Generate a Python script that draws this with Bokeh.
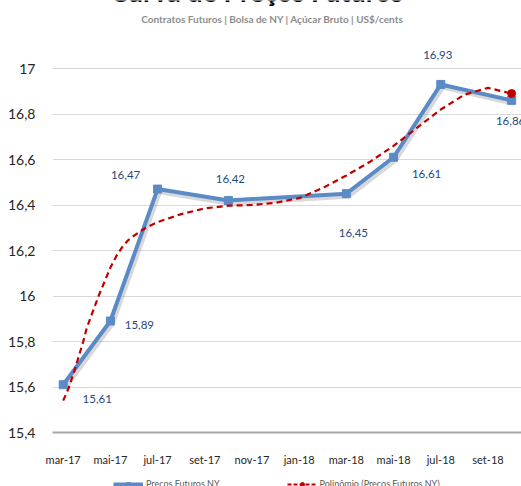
from bokeh.plotting import figure
from bokeh.layouts import column
from bokeh.models import ColumnDataSource, FixedTicker, Label, Legend, LegendItem, Range1d
from bokeh.core.properties import value
from bokeh.transform import dodge
from bokeh.embed import file_html
from bokeh.resources import INLINE

# ---------------- data ----------------
months = ["mar-17", "abr-17", "mai-17", "jun-17", "jul-17", "ago-17", "set-17", "out-17",
          "nov-17", "dez-17", "jan-18", "fev-18", "mar-18", "abr-18", "mai-18", "jun-18",
          "jul-18", "ago-18", "set-18", "out-18"]
price_months = ["mar-17", "mai-17", "jul-17", "out-17", "mar-18", "mai-18", "jul-18", "out-18"]
prices = [15.61, 15.89, 16.47, 16.42, 16.45, 16.61, 16.93, 16.86]
price_labels = ["15,61", "15,89", "16,47", "16,42", "16,45", "16,61", "16,93", "16,86"]
# polynomial trend line (position in months since mar-17, value)
trend_pos = [0, 0.25, 0.5, 0.85, 1, 1.5, 2, 2.25, 2.5, 2.75, 3, 3.5, 4, 5, 6, 7, 8, 9, 10,
             11, 12, 13, 14, 15, 16, 17, 18, 19]
trend_values = [15.54, 15.60, 15.68, 15.80, 15.86, 16.00, 16.125, 16.175, 16.215, 16.245,
                16.265, 16.30, 16.325, 16.36, 16.385, 16.397, 16.40, 16.41, 16.43, 16.475,
                16.53, 16.59, 16.66, 16.74, 16.82, 16.885, 16.915, 16.89]
x_tick_labels = ["mar-17", "mai-17", "jul-17", "set-17", "nov-17", "jan-18", "mar-18",
                 "mai-18", "jul-18", "set-18"]
y_ticks = [15.4, 15.6, 15.8, 16.0, 16.2, 16.4, 16.6, 16.8, 17.0]
y_tick_labels = ["15,4", "15,6", "15,8", "16", "16,2", "16,4", "16,6", "16,8", "17"]
title = "Curva de Preços Futuros"
subtitle = "Contratos Futuros | Bolsa de NY | Açúcar Bruto | US$/cents"
series_name = "Preços Futuros NY"
trend_name = "Polinômio (Preços Futuros NY)"

# ---------------- styling / label placement (pixels) ----------------
label_dx = [34, 29, -32, 2, 7, 33, -3, -1]
label_dy = [14, 4, -14, -21, 39, 17, -29, 21]
BLUE = "#5B8BC7"
RED = "#C00000"
FONT = "Lato"

px = [months.index(m) for m in price_months]

src = ColumnDataSource(dict(x=px, y=prices, label=price_labels, dx=label_dx, dy=label_dy))
tsrc = ColumnDataSource(dict(x=trend_pos, y=trend_values))
tend = ColumnDataSource(dict(x=trend_pos[-1:], y=trend_values[-1:]))

p = figure(width=521, height=470, output_backend="svg", toolbar_location=None,
           x_range=Range1d(-0.453, 19.42), y_range=Range1d(15.4, 17.299),
           min_border_left=52, min_border_right=0, min_border_top=0, min_border_bottom=38)
p.outline_line_color = None
p.xgrid.visible = False
p.ygrid.ticker = FixedTicker(ticks=y_ticks)
p.ygrid.grid_line_color = "#D9D9D9"
p.ygrid.grid_line_width = 1

p.yaxis.ticker = FixedTicker(ticks=y_ticks)
p.yaxis.major_label_overrides = dict(zip(y_ticks, y_tick_labels))
p.yaxis.axis_line_color = None
p.yaxis.major_tick_line_color = None
p.yaxis.minor_tick_line_color = None
p.yaxis.major_label_standoff = 11
p.yaxis.major_label_text_font = FONT
p.yaxis.major_label_text_font_size = "14px"
p.yaxis.major_label_text_color = "#262626"

xt = [months.index(m) for m in x_tick_labels]
p.xaxis.ticker = FixedTicker(ticks=xt)
p.xaxis.major_label_overrides = dict(zip(xt, x_tick_labels))
p.xaxis.axis_line_color = "#A6A6A6"
p.xaxis.axis_line_width = 2
p.xaxis.major_tick_line_color = None
p.xaxis.minor_tick_line_color = None
p.xaxis.major_label_standoff = 14
p.xaxis.major_label_text_font = FONT
p.xaxis.major_label_text_font_size = "11px"
p.xaxis.major_label_text_color = "#262626"

# shadow of the price line
p.line(x=dodge("x", 0.08), y=dodge("y", -0.012), source=src, line_color="#7F7F7F",
       line_alpha=0.3, line_width=5)
p.line("x", "y", source=src, line_color=BLUE, line_width=4)
p.scatter("x", "y", source=src, marker="square", size=8, fill_color=BLUE, line_color=BLUE)

p.line("x", "y", source=tsrc, line_color=RED, line_width=2.2, line_dash="6 4")
p.scatter("x", "y", source=tend, marker="circle", size=8, fill_color=RED, line_color=RED)

p.text(x="x", y="y", text="label", source=src, x_offset="dx", y_offset="dy",
       text_align="center", text_baseline="middle", text_font=value(FONT),
       text_font_size="11.5px", text_color="#1F497D")

p.add_layout(Label(x=204, y=441.5, x_units="screen", y_units="screen", text=title,
                   text_align="center", text_baseline="alphabetic", text_font=FONT,
                   text_font_style="bold", text_font_size="27px", text_color="#000000"))
p.add_layout(Label(x=220, y=414, x_units="screen", y_units="screen", text=subtitle,
                   text_align="center", text_baseline="middle", text_font=FONT,
                   text_font_style="bold", text_font_size="10px", text_color="#8C8C8C"))

# ---------------- legend strip (cut by the bottom edge, as in the reference) ----------------
# its y range is far from the data, so the series themselves stay out of view here
leg_fig = figure(width=521, height=16, output_backend="svg", toolbar_location=None,
                 x_range=Range1d(0, 1), y_range=Range1d(100, 101),
                 x_axis_type=None, y_axis_type=None,
                 min_border_left=0, min_border_right=0, min_border_top=0, min_border_bottom=0)
leg_fig.outline_line_color = None
leg_fig.grid.visible = False
lr1 = leg_fig.line("x", "y", source=src, line_color=BLUE, line_width=4)
lr2 = leg_fig.scatter("x", "y", source=src, marker="square", size=8,
                      fill_color=BLUE, line_color=BLUE)
lr3 = leg_fig.line("x", "y", source=tsrc, line_color=RED, line_width=2, line_dash="4 2")
lr4 = leg_fig.scatter("x", "y", source=tend, marker="circle", size=8,
                      fill_color=RED, line_color=RED)
legend = Legend(items=[LegendItem(label=series_name, renderers=[lr1, lr2]),
                       LegendItem(label=trend_name, renderers=[lr3, lr4])],
                location=(61, -3), orientation="horizontal", glyph_width=30,
                glyph_height=10, label_height=10, label_standoff=3, spacing=67,
                padding=0, margin=0, border_line_color=None, background_fill_alpha=0,
                label_text_font=FONT, label_text_font_size="9px",
                label_text_color="#595959")
leg_fig.add_layout(legend)

layout = column(p, leg_fig, spacing=0)
open("out.html", "w").write(file_html(layout, INLINE))
